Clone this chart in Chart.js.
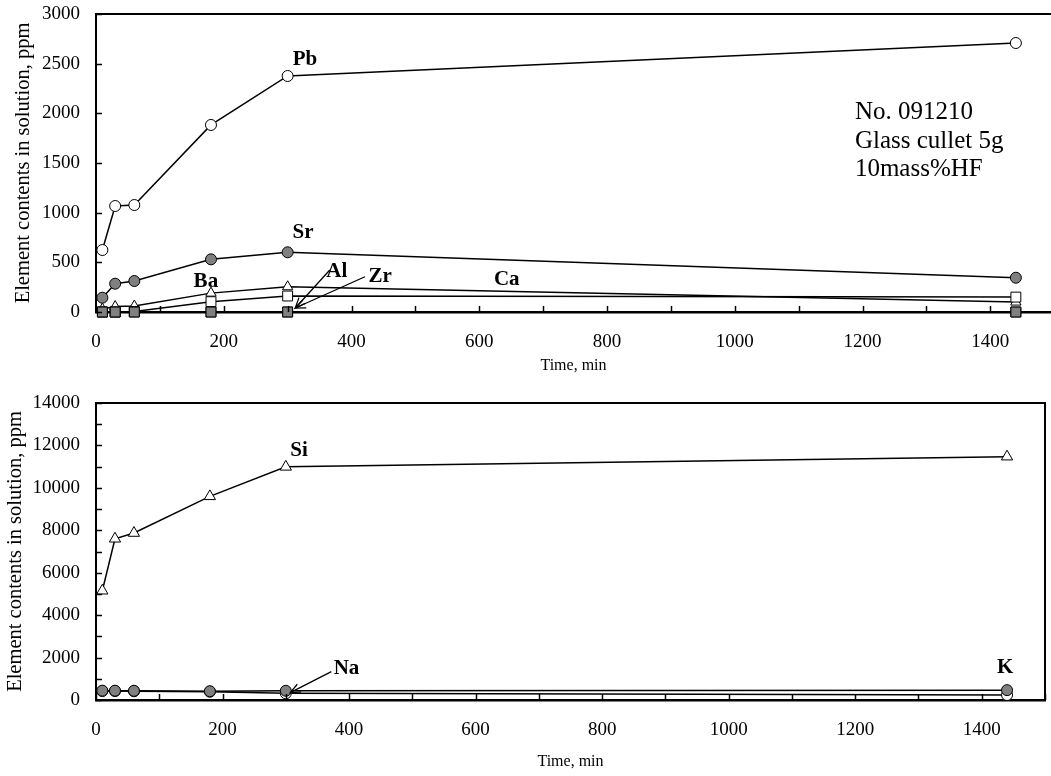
<!DOCTYPE html>
<html>
<head>
<meta charset="utf-8">
<script src="https://cdn.jsdelivr.net/npm/chart.js@4.4.1/dist/chart.umd.min.js"></script>
<style>
    html, body { margin: 0; padding: 0; background: #fff; overflow: hidden; }
    .panel { position: absolute; left: 0; width: 1051px; }
    #top-panel { top: 0; height: 385px; }
    #bottom-panel { top: 385px; height: 391px; }
</style>
</head>
<body>
<div class="panel" id="top-panel"><canvas id="topChart"></canvas></div>
<div class="panel" id="bottom-panel"><canvas id="bottomChart"></canvas></div>
<script>
    // sampling times, min
    const times = [10, 30, 60, 180, 300, 1440];

    // upper panel, ppm
    const pb = [624, 1067, 1077, 1883, 2376, 2708];
    const sr = [144, 285, 312, 530, 601, 345];
    const ba = [30, 55, 60, 190, 254, 100];
    const ca = [0, 0, 5, 104, 161, 150];
    const al = [0, 0, 0, 0, 0, 0];
    const zr = [0, 0, 0, 0, 0, 0];

    // lower panel, ppm
    const si = [5150, 7600, 7870, 9600, 10990, 11470];
    const k = [440, 440, 435, 415, 435, 465];
    const na = [420, 420, 410, 390, 315, 236];

    // tick marks (labels only on the ones listed in the *Labels arrays)
    const topXTicks = [0, 100, 200, 300, 400, 500, 600, 700, 800, 900, 1000, 1100, 1200, 1300, 1400];
    const bottomXTicks = [0, 100, 200, 300, 400, 500, 600, 700, 800, 900, 1000, 1100, 1200, 1300, 1400, 1500];
    const xLabels = [0, 200, 400, 600, 800, 1000, 1200, 1400];
    const topYTicks = [0, 500, 1000, 1500, 2000, 2500, 3000];
    const bottomYTicks = [0, 1000, 2000, 3000, 4000, 5000, 6000, 7000, 8000, 9000, 10000, 11000, 12000, 13000, 14000];
    const bottomYLabels = [0, 2000, 4000, 6000, 8000, 10000, 12000, 14000];

    const serif = '"Liberation Serif", "Times New Roman", serif';
    const GRAY = '#808080';

    Chart.defaults.font.family = serif;
    Chart.defaults.color = '#000';

    function series(label, values, style, fill, radius) {
        return {
            label: label,
            data: times.map((t, i) => ({ x: t, y: values[i] })),
            borderColor: '#000',
            borderWidth: 1.5,
            pointStyle: style,
            pointRadius: radius,
            pointBackgroundColor: fill,
            pointBorderColor: '#000',
            pointBorderWidth: 1,
            tension: 0,
            clip: false
        };
    }

    // inward tick marks, frame lines, element labels and arrows
    const decorPlugin = {
        id: 'decor',
        afterDatasetsDraw(chart, args, opts) {
            const { ctx, chartArea: a, scales: { x, y } } = chart;
            ctx.save();
            ctx.strokeStyle = '#000';
            ctx.lineWidth = 1.5;
            ctx.beginPath();
            x.ticks.forEach(t => {
                const px = Math.round(x.getPixelForValue(t.value)) + 0.5;
                ctx.moveTo(px, a.bottom);
                ctx.lineTo(px, a.bottom - 6);
            });
            y.ticks.forEach(t => {
                const py = Math.round(y.getPixelForValue(t.value)) + 0.5;
                ctx.moveTo(a.left, py);
                ctx.lineTo(a.left + 6, py);
            });
            ctx.stroke();

            ctx.lineWidth = 2;
            ctx.beginPath();
            ctx.moveTo(a.left, a.top);
            ctx.lineTo(a.right, a.top);
            if (opts.box) {
                ctx.lineTo(a.right, a.bottom);
            }
            ctx.stroke();

            ctx.fillStyle = '#000';
            (opts.labels || []).forEach(l => {
                ctx.font = l.font;
                ctx.textAlign = l.align || 'center';
                ctx.textBaseline = l.baseline || 'middle';
                ctx.fillText(l.text, x.getPixelForValue(l.x), y.getPixelForValue(l.y));
            });

            ctx.lineWidth = 1.3;
            (opts.arrows || []).forEach(ar => {
                const x0 = x.getPixelForValue(ar.from[0]);
                const y0 = y.getPixelForValue(ar.from[1]);
                const x1 = x.getPixelForValue(ar.to[0]);
                const y1 = y.getPixelForValue(ar.to[1]);
                const ang = Math.atan2(y1 - y0, x1 - x0);
                const head = 11;
                ctx.beginPath();
                ctx.moveTo(x0, y0);
                ctx.lineTo(x1, y1);
                ctx.moveTo(x1 - head * Math.cos(ang - 0.4), y1 - head * Math.sin(ang - 0.4));
                ctx.lineTo(x1, y1);
                ctx.lineTo(x1 - head * Math.cos(ang + 0.4), y1 - head * Math.sin(ang + 0.4));
                ctx.stroke();
            });
            ctx.restore();
        }
    };

    const bold = 'bold 21px ' + serif;
    const note = '25px ' + serif;

    function axes(opt) {
        return {
            x: {
                type: 'linear',
                min: 0,
                max: opt.xMax,
                afterBuildTicks: s => { s.ticks = opt.xTicks.map(v => ({ value: v })); },
                afterFit: s => {
                    s.height = opt.xHeight;
                    s.paddingLeft = 0;
                    s.paddingRight = 0;
                },
                ticks: {
                    autoSkip: false,
                    maxRotation: 0,
                    padding: 19,
                    font: { size: 19 },
                    color: '#000',
                    callback: v => (xLabels.includes(v) ? String(v) : '')
                },
                grid: { display: false, drawTicks: false },
                border: { display: true, color: '#000', width: 2.5 },
                title: {
                    display: true,
                    text: 'Time, min',
                    font: { size: 16 },
                    color: '#000',
                    padding: { top: 0, bottom: opt.xTitlePad }
                }
            },
            y: {
                type: 'linear',
                min: 0,
                max: opt.yMax,
                afterBuildTicks: s => { s.ticks = opt.yTicks.map(v => ({ value: v })); },
                afterFit: s => {
                    s.width = 96;
                    s.paddingTop = 0;
                    s.paddingBottom = 0;
                },
                ticks: {
                    autoSkip: false,
                    padding: 16,
                    font: { size: 19 },
                    color: '#000',
                    callback: v => (opt.yLabels.includes(v) ? String(v) : '')
                },
                grid: { display: false, drawTicks: false },
                border: { display: true, color: '#000', width: 2 },
                title: {
                    display: true,
                    text: 'Element contents in solution, ppm',
                    font: { size: 20.5 },
                    color: '#000',
                    padding: { top: opt.yTitlePad, bottom: 0 }
                }
            }
        };
    }

    new Chart(document.getElementById('topChart'), {
        type: 'line',
        data: {
            datasets: [
                series('Al', al, 'rect', GRAY, 7),
                series('Zr', zr, 'rect', GRAY, 7),
                series('Ca', ca, 'rect', '#fff', 7),
                series('Ba', ba, 'triangle', '#fff', 6),
                series('Sr', sr, 'circle', GRAY, 5.5),
                series('Pb', pb, 'circle', '#fff', 5.5)
            ]
        },
        options: {
            responsive: true,
            maintainAspectRatio: false,
            animation: false,
            devicePixelRatio: 1,
            layout: { autoPadding: false, padding: { top: 14, left: 0, right: 0, bottom: 0 } },
            plugins: {
                legend: { display: false },
                tooltip: { enabled: false },
                decor: {
                    box: false,
                    labels: [
                        { text: 'Pb', x: 327, y: 2537, font: bold },
                        { text: 'Sr', x: 324, y: 798, font: bold },
                        { text: 'Ba', x: 172, y: 305, font: bold },
                        { text: 'Al', x: 377, y: 406, font: bold },
                        { text: 'Zr', x: 445, y: 355, font: bold },
                        { text: 'Ca', x: 643, y: 322, font: bold },
                        { text: 'No. 091210', x: 1188, y: 1943, font: note, align: 'left', baseline: 'alphabetic' },
                        { text: 'Glass cullet 5g', x: 1188, y: 1656, font: note, align: 'left', baseline: 'alphabetic' },
                        { text: '10mass%HF', x: 1188, y: 1369, font: note, align: 'left', baseline: 'alphabetic' }
                    ],
                    arrows: [
                        { from: [366, 423], to: [312, 40] },
                        { from: [421, 355], to: [312, 40] }
                    ]
                }
            },
            scales: axes({
                xMax: 1495, xTicks: topXTicks, xHeight: 73, xTitlePad: 10,
                yMax: 3000, yTicks: topYTicks, yLabels: topYTicks, yTitlePad: 11
            })
        },
        plugins: [decorPlugin]
    });

    new Chart(document.getElementById('bottomChart'), {
        type: 'line',
        data: {
            datasets: [
                series('K', k, 'circle', GRAY, 5.5),
                series('Na', na, 'circle', '#fff', 5.5),
                series('Si', si, 'triangle', '#fff', 6.5)
            ]
        },
        options: {
            responsive: true,
            maintainAspectRatio: false,
            animation: false,
            devicePixelRatio: 1,
            layout: { autoPadding: false, padding: { top: 18, left: 0, right: 6, bottom: 0 } },
            plugins: {
                legend: { display: false },
                tooltip: { enabled: false },
                decor: {
                    box: true,
                    labels: [
                        { text: 'Si', x: 321, y: 11752, font: bold },
                        { text: 'Na', x: 396, y: 1494, font: bold },
                        { text: 'K', x: 1437, y: 1508, font: bold }
                    ],
                    arrows: [
                        { from: [372, 1334], to: [307, 344] }
                    ]
                }
            },
            scales: axes({
                xMax: 1500, xTicks: bottomXTicks, xHeight: 76, xTitlePad: 5,
                yMax: 14000, yTicks: bottomYTicks, yLabels: bottomYLabels, yTitlePad: 3
            })
        },
        plugins: [decorPlugin]
    });
</script>
</body>
</html>
